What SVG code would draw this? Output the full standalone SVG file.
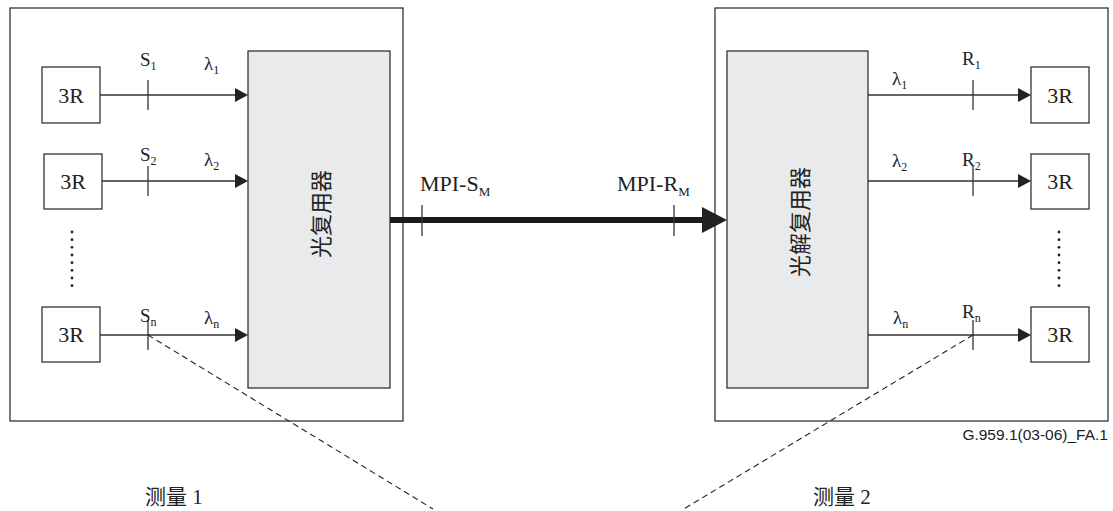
<svg xmlns="http://www.w3.org/2000/svg" width="1113" height="511" viewBox="0 0 1113 511">
<style>
.frame{fill:#fff;stroke:#333;stroke-width:1.3}
.blk{fill:#e9eaec;stroke:#333;stroke-width:1.3}
.box{fill:#fff;stroke:#333;stroke-width:1.3}
.ln{stroke:#333;stroke-width:1.3;fill:none}
.dash{stroke:#222;stroke-width:1.1;stroke-dasharray:6,4;fill:none}
.ah{fill:#222}
.t{font-family:"Liberation Serif","Times New Roman",serif;fill:#222}
.lab{font-size:19px}
.sub{font-size:12px}
.r3{font-size:22px;text-anchor:middle}
.cjk{font-family:"Noto Sans CJK SC",sans-serif;font-size:22px;fill:#222;text-anchor:middle}
.cap{font-family:"Liberation Serif","Noto Sans CJK SC",serif;font-size:21px;fill:#222}
.dot{fill:#222}
</style>
<g id="left-frame"><rect class="frame" x="10" y="8" width="393" height="413"/></g>
<g id="right-frame"><rect class="frame" x="715" y="8" width="393" height="413"/></g>
<g id="mux"><rect class="blk" x="248" y="51" width="142" height="337"/>
<text class="cjk" transform="translate(329,214) rotate(-90)">光复用器</text></g>
<g id="demux"><rect class="blk" x="727" y="51" width="141" height="337"/>
<text class="cjk" transform="translate(808,222) rotate(-90)">光解复用器</text></g>
<g id="tx1"><rect class="box" x="42" y="67" width="58" height="56"/><text class="t r3" x="71" y="103">3R</text></g>
<g id="tx2"><rect class="box" x="44" y="154" width="58" height="55"/><text class="t r3" x="73" y="189">3R</text></g>
<g id="txn"><rect class="box" x="42" y="307" width="58" height="55"/><text class="t r3" x="71" y="342">3R</text></g>
<g id="rx1"><rect class="box" x="1031" y="67" width="58" height="56"/><text class="t r3" x="1060" y="103">3R</text></g>
<g id="rx2"><rect class="box" x="1031" y="154" width="58" height="55"/><text class="t r3" x="1060" y="189">3R</text></g>
<g id="rxn"><rect class="box" x="1031" y="307" width="58" height="55"/><text class="t r3" x="1060" y="342">3R</text></g>
<g id="dots">
<circle class="dot" cx="72" cy="232" r="1.4"/><circle class="dot" cx="72" cy="239.7" r="1.4"/><circle class="dot" cx="72" cy="247.3" r="1.4"/><circle class="dot" cx="72" cy="255" r="1.4"/><circle class="dot" cx="72" cy="262.7" r="1.4"/><circle class="dot" cx="72" cy="270.3" r="1.4"/><circle class="dot" cx="72" cy="278" r="1.4"/><circle class="dot" cx="72" cy="285.7" r="1.4"/>
<circle class="dot" cx="1059" cy="232" r="1.4"/><circle class="dot" cx="1059" cy="239.7" r="1.4"/><circle class="dot" cx="1059" cy="247.3" r="1.4"/><circle class="dot" cx="1059" cy="255" r="1.4"/><circle class="dot" cx="1059" cy="262.7" r="1.4"/><circle class="dot" cx="1059" cy="270.3" r="1.4"/><circle class="dot" cx="1059" cy="278" r="1.4"/><circle class="dot" cx="1059" cy="285.7" r="1.4"/>
</g>
<g id="connectors">
<line class="ln" x1="100" y1="95" x2="236" y2="95"/><polygon class="ah" points="235,88 248,95 235,102"/>
<line class="ln" x1="102" y1="181" x2="236" y2="181"/><polygon class="ah" points="235,174 248,181 235,188"/>
<line class="ln" x1="100" y1="335" x2="236" y2="335"/><polygon class="ah" points="235,328 248,335 235,342"/>
<line class="ln" x1="868" y1="95" x2="1019" y2="95"/><polygon class="ah" points="1018,88 1031,95 1018,102"/>
<line class="ln" x1="868" y1="181" x2="1019" y2="181"/><polygon class="ah" points="1018,174 1031,181 1018,188"/>
<line class="ln" x1="868" y1="335" x2="1019" y2="335"/><polygon class="ah" points="1018,328 1031,335 1018,342"/>
<line class="ln" x1="148" y1="80" x2="148" y2="110"/>
<line class="ln" x1="148" y1="166" x2="148" y2="196"/>
<line class="ln" x1="148" y1="320" x2="148" y2="350"/>
<line class="ln" x1="973" y1="80" x2="973" y2="110"/>
<line class="ln" x1="973" y1="166" x2="973" y2="196"/>
<line class="ln" x1="973" y1="320" x2="973" y2="350"/>
<line x1="390" y1="220" x2="704" y2="220" stroke="#1a1a1a" stroke-width="6"/>
<polygon class="ah" points="702,207 727,220 702,233"/>
<line class="ln" x1="422" y1="205" x2="422" y2="236"/>
<line class="ln" x1="674" y1="205" x2="674" y2="236"/>
<line class="dash" x1="148" y1="335" x2="433" y2="509"/>
<line class="dash" x1="973" y1="335" x2="682" y2="510"/>
</g>
<g id="labels">
<text class="t lab" x="140" y="66">S<tspan class="sub" dy="4">1</tspan></text>
<text class="t lab" x="204" y="70">λ<tspan class="sub" dy="4">1</tspan></text>
<text class="t lab" x="140" y="161">S<tspan class="sub" dy="4">2</tspan></text>
<text class="t lab" x="204" y="166">λ<tspan class="sub" dy="4">2</tspan></text>
<text class="t lab" x="140" y="322">S<tspan class="sub" dy="4">n</tspan></text>
<text class="t lab" x="204" y="324">λ<tspan class="sub" dy="4">n</tspan></text>
<text class="t lab" x="892" y="85">λ<tspan class="sub" dy="4">1</tspan></text>
<text class="t lab" x="962" y="65">R<tspan class="sub" dy="4">1</tspan></text>
<text class="t lab" x="892" y="167">λ<tspan class="sub" dy="4">2</tspan></text>
<text class="t lab" x="962" y="166">R<tspan class="sub" dy="4">2</tspan></text>
<text class="t lab" x="893" y="324">λ<tspan class="sub" dy="4">n</tspan></text>
<text class="t lab" x="962" y="318">R<tspan class="sub" dy="4">n</tspan></text>
<text class="t" font-size="22" x="420" y="191">MPI-S<tspan font-size="13" dy="5">M</tspan></text>
<text class="t" font-size="22" x="617" y="191">MPI-R<tspan font-size="13" dy="5">M</tspan></text>
<text x="1108" y="440" font-family="Liberation Sans,Arial,sans-serif" font-size="15.5" fill="#222" text-anchor="end">G.959.1(03-06)_FA.1</text>
<text class="cap" x="145" y="504">测量 1</text>
<text class="cap" x="813" y="504">测量 2</text>
</g>
</svg>
